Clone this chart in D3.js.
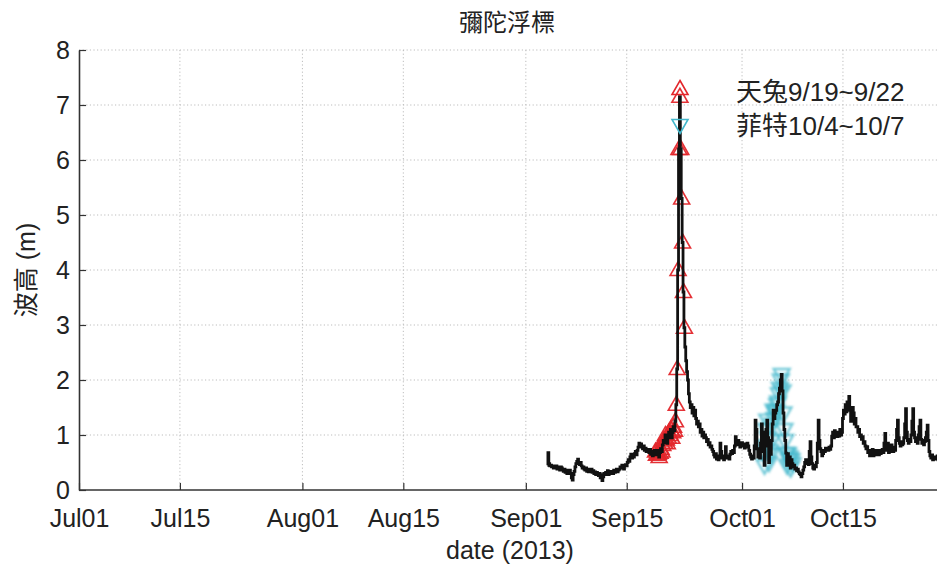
<!DOCTYPE html>
<html>
<head>
<meta charset="utf-8">
<script src="https://cdn.jsdelivr.net/npm/d3@7"></script>
<style>
  html, body { margin: 0; padding: 0; background: #fff; }
  svg { display: block; }
  text { font-family: "Liberation Sans", "Noto Sans CJK TC", Arial, sans-serif; fill: #222; }
  .cjk { font-family: "Noto Sans CJK TC", "Noto Sans CJK SC", sans-serif; }
</style>
</head>
<body>
<svg id="chart" width="937" height="574"></svg>
<script>
// 彌陀浮標 significant wave height, 3-hourly, starting 2013-09-04 00:00
const seriesStart = "2013-09-04T00:00:00";
const stepHours = 3;
const waveHeight = [
  // Sep04 .. Sep10
  0.45, 0.68, 0.48, 0.44, 0.45, 0.42, 0.44, 0.40,
  0.42, 0.40, 0.44, 0.38, 0.42, 0.40, 0.36, 0.42,
  0.40, 0.36, 0.34, 0.38, 0.32, 0.36, 0.30, 0.34,
  0.32, 0.36, 0.30, 0.22, 0.18, 0.28, 0.34, 0.42,
  0.48, 0.52, 0.56, 0.50, 0.46, 0.50, 0.44, 0.40,
  0.42, 0.38, 0.36, 0.40, 0.34, 0.38, 0.33, 0.36,
  0.34, 0.38, 0.32, 0.35, 0.30, 0.33, 0.28, 0.32,
  // Sep11 .. Sep17
  0.30, 0.26, 0.30, 0.22, 0.28, 0.17, 0.24, 0.30,
  0.28, 0.32, 0.30, 0.35, 0.28, 0.32, 0.34, 0.30,
  0.33, 0.30, 0.36, 0.32, 0.35, 0.38, 0.33, 0.36,
  0.38, 0.42, 0.40, 0.45, 0.42, 0.38, 0.44, 0.46,
  0.44, 0.50, 0.55, 0.52, 0.60, 0.65, 0.58, 0.62,
  0.60, 0.66, 0.70, 0.64, 0.72, 0.78, 0.85, 0.80,
  0.84, 0.78, 0.75, 0.80, 0.72, 0.76, 0.70, 0.74,
  // Sep18 .. Sep24
  0.72, 0.68, 0.74, 0.65, 0.70, 0.62, 0.68, 0.72,
  0.70, 0.64, 0.72, 0.66, 0.60, 0.68, 0.75, 0.70,
  0.82, 0.90, 0.86, 1.00, 0.92, 0.85, 0.95, 1.05,
  1.00, 1.10, 0.95, 1.05, 1.15, 1.08, 1.25, 1.55,
  2.20, 4.00, 6.20, 7.15, 6.20, 5.30, 4.50, 3.60,
  2.95, 2.60, 2.35, 2.15, 2.00, 1.75, 1.60, 1.50,
  1.55, 1.40, 1.50, 1.35, 1.45, 1.30, 1.20, 1.25,
  // Sep25 .. Oct01
  1.15, 1.20, 1.05, 1.10, 0.98, 1.05, 0.95, 1.00,
  0.95, 0.88, 0.92, 0.82, 0.86, 0.78, 0.80, 0.74,
  0.70, 0.64, 0.60, 0.66, 0.56, 0.60, 0.55, 0.62,
  0.85, 0.70, 0.58, 0.62, 0.55, 0.60, 0.79, 0.62,
  0.58, 0.62, 0.56, 0.65, 0.70, 0.66, 0.72, 0.68,
  0.80, 0.97, 0.88, 0.82, 0.90, 0.85, 0.78, 0.84,
  0.86, 0.80, 0.84, 0.76, 0.82, 0.78, 0.85, 0.80,
  // Oct02 .. Oct08
  0.72, 0.65, 0.60, 0.56, 0.62, 0.58, 0.80, 1.27,
  1.10, 0.75, 0.60, 0.62, 0.58, 0.85, 1.20, 1.05,
  0.70, 0.45, 0.80, 1.10, 1.27, 0.95, 0.50, 0.72,
  0.65, 0.90, 1.20, 1.45, 1.30, 1.40, 1.45, 1.55,
  1.60, 1.75, 1.85, 2.00, 2.10, 1.80, 1.40, 1.10,
  0.90, 0.67, 0.45, 0.66, 0.55, 0.60, 0.40, 0.55,
  0.48, 0.42, 0.45, 0.38, 0.40, 0.35, 0.38, 0.33,
  // Oct09 .. Oct15
  0.30, 0.28, 0.24, 0.30, 0.36, 0.42, 0.50, 0.55,
  0.48, 0.52, 0.46, 0.70, 0.88, 0.60, 0.48, 0.40,
  0.38, 0.45, 0.42, 0.50, 0.85, 1.27, 0.90, 0.75,
  0.70, 0.62, 0.66, 0.72, 0.70, 0.76, 0.72, 0.74,
  0.72, 0.78, 0.74, 0.80, 0.98, 1.05, 0.95, 1.08,
  1.00, 1.05, 0.97, 1.02, 0.98, 1.10, 1.00, 1.05,
  1.30, 1.45, 1.38, 1.55, 1.42, 1.60, 1.50, 1.70,
  // Oct16 .. Oct22
  1.45, 1.25, 1.35, 1.50, 1.40, 1.20, 1.30, 1.15,
  1.15, 1.05, 1.10, 0.97, 1.00, 0.92, 0.97, 0.85,
  0.88, 0.80, 0.75, 0.79, 0.68, 0.72, 0.62, 0.70,
  0.68, 0.74, 0.62, 0.70, 0.64, 0.72, 0.66, 0.70,
  0.64, 0.72, 0.66, 0.70, 0.74, 0.68, 0.85, 1.03,
  0.80, 0.72, 0.85, 0.68, 0.78, 0.70, 0.82, 0.75,
  0.70, 0.78, 0.72, 0.90, 1.10, 1.27, 0.95, 0.85,
  // Oct23 .. Oct28
  0.80, 0.88, 0.82, 0.85, 0.95, 1.20, 1.48, 1.05,
  0.90, 0.85, 0.92, 0.88, 1.00, 1.25, 1.48, 1.05,
  0.95, 0.88, 0.92, 0.85, 1.00, 1.15, 1.27, 0.92,
  0.85, 0.90, 0.82, 0.88, 0.95, 1.05, 1.18, 0.90,
  0.70, 0.62, 0.58, 0.64, 0.55, 0.60, 0.56, 0.60,
  0.58, 0.62, 0.55, 0.60, 0.58, 0.62, 0.56, 0.60
];

// Typhoon periods highlighted on the series
const typhoonNames = ["天兔9/19~9/22", "菲特10/4~10/7"];
const typhoonStart = ["2013-09-19T00:00:00", "2013-10-04T00:00:00"];
const typhoonEnd   = ["2013-09-23T00:00:00", "2013-10-08T00:00:00"];
const typhoonColor = ["#e3262b", "#45b8cc"];
const typhoonMarker = ["up", "down"];

// Axis ticks
const xTickDates = ["2013-07-01", "2013-07-15", "2013-08-01", "2013-08-15",
                    "2013-09-01", "2013-09-15", "2013-10-01", "2013-10-15"];
const xTickLabels = ["Jul01", "Jul15", "Aug01", "Aug15", "Sep01", "Sep15", "Oct01", "Oct15"];
const yTicks = [0, 1, 2, 3, 4, 5, 6, 7, 8];

const chartTitle = "彌陀浮標";
const xTitle = "date (2013)";
const yTitle = "波高 (m)";

const parse = d3.isoParse;
const t0 = parse(seriesStart);
const points = waveHeight.map((v, i) => ({
  t: new Date(t0.getTime() + i * stepHours * 3600e3),
  v
}));

const svg = d3.select("#chart");
const plotLeft = 79, plotTop = 50, plotBottom = 490, plotRight = 937;

const defs = svg.append("defs");
defs.append("filter").attr("id", "soft")
  .attr("x", "-20%").attr("y", "-20%").attr("width", "140%").attr("height", "140%")
  .append("feGaussianBlur").attr("stdDeviation", 0.8);

const x = d3.scaleTime()
  .domain([parse("2013-07-01T00:00:00"), parse("2013-10-31T00:00:00")])
  .range([plotLeft, plotLeft + 122 * 7.207]);
const y = d3.scaleLinear().domain([0, 8]).range([plotBottom, plotTop]);

// Grid (dotted)
const grid = svg.append("g").attr("stroke", "#bdbdbd").attr("stroke-width", 1)
  .attr("stroke-dasharray", "1.2,2.4");
yTicks.filter(v => v > 0).forEach(v => {
  grid.append("line").attr("x1", plotLeft).attr("x2", plotRight)
    .attr("y1", y(v)).attr("y2", y(v));
});
xTickDates.slice(1).forEach(d => {
  grid.append("line").attr("x1", x(parse(d))).attr("x2", x(parse(d)))
    .attr("y1", plotTop).attr("y2", plotBottom);
});

// Axes with inward ticks
const xAxis = d3.axisBottom(x)
  .tickValues(xTickDates.map(parse))
  .tickFormat((d, i) => xTickLabels[i])
  .tickSizeInner(-7).tickSizeOuter(0).tickPadding(19);
const yAxis = d3.axisLeft(y)
  .tickValues(yTicks)
  .tickSizeInner(-7).tickSizeOuter(0).tickPadding(9);

const gx = svg.append("g").attr("transform", `translate(0,${plotBottom})`).call(xAxis);
const gy = svg.append("g").attr("transform", `translate(${plotLeft},0)`).call(yAxis);
[gx, gy].forEach(g => {
  g.select(".domain").attr("stroke", "#333").attr("stroke-width", 1.6);
  g.selectAll(".tick line").attr("stroke", "#333").attr("stroke-width", 1.2);
  g.selectAll(".tick text").attr("font-size", 25).attr("fill", "#222")
    .style("font-family", "'Liberation Sans', Arial, sans-serif");
});
gx.select(".domain").attr("d", `M${plotLeft},0H${plotRight}`);

// Marker shapes
const triUp = "M0,-8.5L8,5.5L-8,5.5Z";
const triDown = "M0,8.5L8,-5.5L-8,-5.5Z";

// Typhoon markers
typhoonNames.forEach((name, k) => {
  const a = parse(typhoonStart[k]), b = parse(typhoonEnd[k]);
  const sel = points.filter(p => p.t >= a && p.t <= b);
  const up = typhoonMarker[k] === "up";
  svg.append("g")
    .attr("filter", up ? null : "url(#soft)")
    .selectAll("path").data(sel).join("path")
    .attr("d", up ? triUp : triDown)
    .attr("transform", p => `translate(${x(p.t)},${y(p.v)})`)
    .attr("fill", "none")
    .attr("stroke", typhoonColor[k])
    .attr("stroke-width", up ? 1.6 : 2.4)
    .attr("stroke-opacity", up ? 0.95 : 0.75);
});

// Wave height series
const line = d3.line().curve(d3.curveStep).x(p => x(p.t)).y(p => y(p.v));
svg.append("path").datum(points)
  .attr("d", line)
  .attr("fill", "none")
  .attr("stroke", "#111")
  .attr("stroke-width", 2.8)
  .attr("stroke-linejoin", "miter");

// Legend
const legend = svg.append("g");
typhoonNames.forEach((name, k) => {
  const ly = 89 + k * 36;
  legend.append("path")
    .attr("d", typhoonMarker[k] === "up" ? triUp : triDown)
    .attr("transform", `translate(680,${ly})`)
    .attr("fill", "none").attr("stroke", typhoonColor[k]).attr("stroke-width", 1.6);
  legend.append("text")
    .attr("x", 736).attr("y", 100.5 + k * 34.5)
    .attr("font-size", 26).attr("fill", "#333")
    .text(name);
});

// Titles
svg.append("text").attr("class", "cjk")
  .attr("x", 507).attr("y", 31).attr("text-anchor", "middle")
  .attr("font-size", 24).attr("fill", "#333").text(chartTitle);
svg.append("text")
  .attr("x", 510).attr("y", 559).attr("text-anchor", "middle")
  .attr("font-size", 25).attr("fill", "#333").text(xTitle);
svg.append("text")
  .attr("transform", "translate(35,270) rotate(-90)")
  .attr("text-anchor", "middle")
  .attr("font-size", 25).attr("fill", "#333").text(yTitle);
</script>
</body>
</html>
